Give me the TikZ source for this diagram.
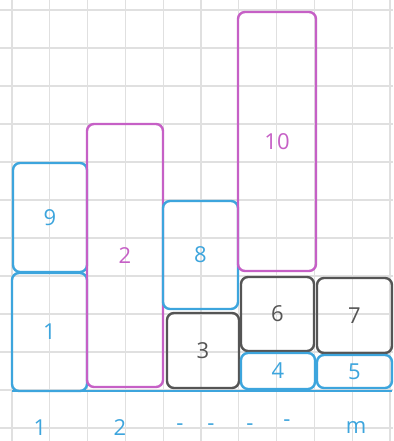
\documentclass[tikz,border=0pt]{standalone}
\usepackage{fontspec}
\setsansfont{Open Sans}
\definecolor{cblue}{HTML}{3DA5DD}
\definecolor{cmag}{HTML}{C660C6}
\definecolor{cgray}{HTML}{555555}
\definecolor{cgrid}{HTML}{E0E0E0}
\begin{document}
\begin{tikzpicture}[x=1pt,y=-1pt,
  box/.style={draw, rounded corners=7pt, line width=2.4pt, inner sep=0pt, outer sep=0pt,
    font=\fontsize{22}{26}\selectfont\sffamily, text=#1, draw=#1},
  lab/.style={font=\fontsize{22}{26}\selectfont\sffamily, text=cblue}]
\useasboundingbox (0,0) rectangle (393,441);
\fill[white] (0,0) rectangle (393,441);
% grid
\foreach \i in {0,...,10} {\draw[cgrid, line width=1.1pt] (12+37.8*\i,0) -- (12+37.8*\i,441);}
\foreach \j in {0,...,11} {\draw[cgrid, line width=1.1pt] (0,10+38*\j) -- (393,10+38*\j);}
% boxes
\node[box=cblue, minimum width=75pt, minimum height=118pt] (b1) at (49.5,332) {1};
\node[box=cblue, minimum width=74pt, minimum height=109pt] (b9) at (50,217.5) {9};
\node[box=cmag, minimum width=76pt, minimum height=263pt] (b2) at (125,255.5) {2};
\node[box=cblue, minimum width=75pt, minimum height=108pt] (b8) at (200.5,255) {8};
\node[box=cgray, minimum width=72pt, minimum height=75pt] (b3) at (203,350.5) {3};
\node[box=cmag, minimum width=78pt, minimum height=259pt] (b10) at (277,141.5) {10};
\node[box=cgray, minimum width=73pt, minimum height=74pt] (b6) at (277.5,314) {6};
\node[box=cgray, minimum width=75pt, minimum height=75pt] (b7) at (354.5,315.5) {7};
\node[box=cblue, minimum width=74pt, minimum height=36pt] (b4) at (278,371) {4};
\node[box=cblue, minimum width=75pt, minimum height=33pt] (b5) at (354.5,371.5) {5};
% baseline
\coordinate (bl) at (12,391);
\coordinate (br) at (392,391);
\draw[cblue, line width=2.6pt] (bl) -- (br);
% axis labels
\node[lab] (x1) at (40,428) {1};
\node[lab] (x2) at (120,428) {2};
\node[lab] (d1) at (180,427) {-};
\node[lab] (d2) at (211,427) {-};
\node[lab] (d3) at (250,427) {-};
\node[lab] (d4) at (287,423) {-};
\node[lab] (xm) at (356,428) {m};
\end{tikzpicture}
\end{document}
